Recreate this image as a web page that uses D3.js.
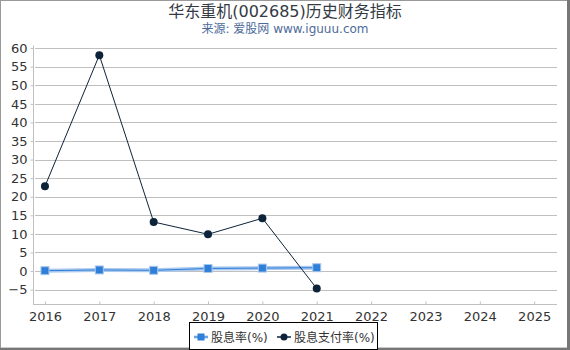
<!DOCTYPE html>
<html><head><meta charset="utf-8">
<script src="https://cdn.jsdelivr.net/npm/d3@7/dist/d3.min.js"></script>
<style>body{margin:0;background:#fff}svg{display:block;font-family:"DejaVu Sans","Noto Sans CJK SC",sans-serif}</style>
</head><body>
<script>
const years = [2016,2017,2018,2019,2020,2021,2022,2023,2024,2025];
const dataYears = [2016,2017,2018,2019,2020,2021];
const dividendYield = [0.1,0.3,0.2,0.7,0.8,0.9];
const payoutRatio = [22.8,58.1,13.2,9.9,14.2,-4.7];
const yTicks = [-5,0,5,10,15,20,25,30,35,40,45,50,55,60];
const seriesNames = ["股息率(%)","股息支付率(%)"];
const title = "华东重机(002685)历史财务指标";
const subtitle = "来源: 爱股网 www.iguuu.com";

const W=570,H=350;
const svg=d3.select("body").append("svg").attr("width",W).attr("height",H);
svg.append("rect").attr("width",W).attr("height",H).attr("fill","#fff");
// frame
svg.append("rect").attr("x",0.5).attr("y",0.5).attr("width",W-3).attr("height",H-2.5).attr("fill","none").attr("stroke","#999").attr("stroke-width",1);
svg.append("rect").attr("x",W-3).attr("y",0).attr("width",3).attr("height",H).attr("fill","#777");
svg.append("rect").attr("x",0).attr("y",H-2).attr("width",W).attr("height",2).attr("fill","#777");

svg.append("text").attr("x",285).attr("y",17).attr("text-anchor","middle").attr("font-size",16).attr("fill","#333a44").text(title);
svg.append("text").attr("x",285).attr("y",33).attr("text-anchor","middle").attr("font-size",12).attr("fill","#4d6b9a").text(subtitle);

const x=d3.scaleLinear().domain([2015.78,2025.42]).range([33,557]);
const y=d3.scaleLinear().domain([-9,60.7]).range([304.5,45.5]);

// grid
svg.append("g").selectAll("line").data(yTicks).join("line")
  .attr("x1",35).attr("x2",557).attr("y1",d=>Math.round(y(d))+0.5).attr("y2",d=>Math.round(y(d))+0.5)
  .attr("stroke","#c0c0c0").attr("stroke-width",1);

// y axis
const ya=svg.append("g").attr("transform","translate(33.5,0)").call(d3.axisLeft(y).tickValues(yTicks).tickSize(3).tickPadding(3).tickFormat(d3.format("d")));
ya.select(".domain").attr("stroke","#c0c0c0").attr("d",`M0,${y(60.7)}V${y(-9)}`);
ya.selectAll(".tick line").attr("stroke","#c0c0c0");
ya.selectAll("text").attr("font-size",13).attr("fill","#333").attr("font-family","DejaVu Sans");

// x axis
const xa=svg.append("g").attr("transform","translate(0,304.5)").call(d3.axisBottom(x).tickValues(years).tickSize(-3).tickPadding(7).tickFormat(d3.format("d")));
xa.select(".domain").attr("stroke","#c0c0c0").attr("d","M33,0H557");
xa.selectAll(".tick line").attr("stroke","#c0c0c0");
xa.selectAll("text").attr("font-size",13).attr("fill","#333").attr("font-family","DejaVu Sans");

const line=d3.line().x((d,i)=>x(dataYears[i])).y(d=>y(d));
// dividend yield
svg.append("path").datum(dividendYield).attr("d",line).attr("fill","none").attr("stroke","#a9c9ef").attr("stroke-width",4);
svg.append("path").datum(dividendYield).attr("d",line).attr("fill","none").attr("stroke","#2f7ed8").attr("stroke-width",1);
svg.append("g").selectAll("rect").data(dividendYield).join("rect")
  .attr("x",(d,i)=>x(dataYears[i])-4).attr("y",d=>y(d)-4).attr("width",8).attr("height",8)
  .attr("fill","#2f7ed8").attr("stroke","#a9c9ef").attr("stroke-width",1);
// payout ratio
svg.append("path").datum(payoutRatio).attr("d",line).attr("fill","none").attr("stroke","#0d233a").attr("stroke-width",1);
svg.append("g").selectAll("circle").data(payoutRatio).join("circle")
  .attr("cx",(d,i)=>x(dataYears[i])).attr("cy",d=>y(d)).attr("r",4).attr("fill","#0d233a");

// legend
const lg=svg.append("g");
lg.append("rect").attr("x",189.5).attr("y",322.5).attr("width",188).attr("height",27).attr("fill","#fff").attr("stroke","#000").attr("stroke-width",1);
lg.append("line").attr("x1",194).attr("x2",208).attr("y1",337).attr("y2",337).attr("stroke","#a9c9ef").attr("stroke-width",3);
lg.append("line").attr("x1",194).attr("x2",208).attr("y1",337).attr("y2",337).attr("stroke","#2f7ed8").attr("stroke-width",1);
lg.append("rect").attr("x",197.5).attr("y",333.5).attr("width",7).attr("height",7).attr("fill","#2f7ed8");
lg.append("text").attr("x",211).attr("y",341.5).attr("font-size",12).attr("fill","#333").text(seriesNames[0]);
lg.append("line").attr("x1",277).attr("x2",291).attr("y1",337).attr("y2",337).attr("stroke","#0d233a").attr("stroke-width",1.5);
lg.append("circle").attr("cx",284).attr("cy",337).attr("r",3.5).attr("fill","#0d233a");
lg.append("text").attr("x",294).attr("y",341.5).attr("font-size",12).attr("fill","#333").text(seriesNames[1]);
</script>
</body></html>
